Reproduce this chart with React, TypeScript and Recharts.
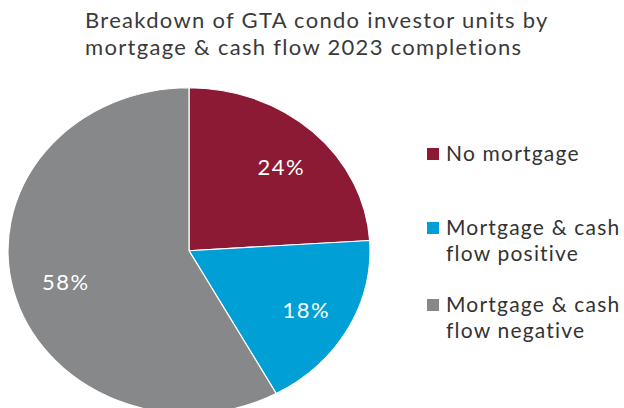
import { PieChart, Pie, Cell } from 'recharts';

// slice data
const categories = ['No mortgage', 'Mortgage & cash flow positive', 'Mortgage & cash flow negative'];
const legendLines = [['No mortgage'], ['Mortgage & cash', 'flow positive'], ['Mortgage & cash', 'flow negative']];
const shares = [24, 18, 58];
const colors = ['#8C1A35', '#009FD6', '#87888A'];

const data = categories.map((name, i) => ({ name, value: shares[i] }));

// the original pie is stretched horizontally, so the svg is squashed vertically
const SQUASH = 163 / 181;
const W = 624;
const H = 408;
const RAD = Math.PI / 180;
const font = 'Lato, "Open Sans", sans-serif';

const renderLabel = (props: any) => {
  const { cx, cy, outerRadius, midAngle, value } = props;
  const r = outerRadius * 0.72;
  const x = cx + r * Math.cos(-midAngle * RAD) + 3;
  const y = cy + r * Math.sin(-midAngle * RAD) + 2;
  return (
    <text
      transform={`translate(${x},${y}) scale(1,${1 / SQUASH})`}
      textAnchor="middle"
      dominantBaseline="central"
      fill="#ffffff"
      fontSize={22}
      letterSpacing={1.5}
      fontFamily={font}
    >
      {`${value}%`}
    </text>
  );
};

export default function App() {
  return (
    <div style={{ position: 'absolute', left: 0, top: 0, width: W, height: H, overflow: 'hidden', background: '#fff', fontFamily: font }}>
      <div style={{ position: 'absolute', left: 85, top: 6, fontSize: 22, letterSpacing: 1.3, lineHeight: '27px', color: '#3a3a3a', whiteSpace: 'nowrap' }}>
        Breakdown of GTA condo investor units by
        <br />
        mortgage &amp; cash flow 2023 completions
      </div>

      <div style={{ position: 'absolute', left: 0, top: 0, transform: `scaleY(${SQUASH})`, transformOrigin: 'top left' }}>
        <PieChart width={W} height={H / SQUASH} margin={{ top: 0, right: 0, bottom: 0, left: 0 }}>
          <Pie
            data={data}
            dataKey="value"
            cx={189}
            cy={250.7 / SQUASH}
            outerRadius={181}
            startAngle={90}
            endAngle={-270}
            stroke="#ffffff"
            strokeWidth={1.2}
            label={renderLabel}
            labelLine={false}
            isAnimationActive={false}
          >
            {data.map((entry, i) => (
              <Cell key={entry.name} fill={colors[i]} />
            ))}
          </Pie>
        </PieChart>
      </div>

      {/* legend */}
      {legendLines.map((lines, i) => (
        <div
          key={i}
          style={{
            position: 'absolute',
            left: 427,
            top: [140, 214, 291][i],
            fontSize: 21,
            letterSpacing: 1.2,
            lineHeight: '26px',
            color: '#333',
            display: 'flex',
            whiteSpace: 'nowrap',
          }}
        >
          <div style={{ width: 12, height: 12, background: colors[i], marginTop: 8, marginRight: 7 }} />
          <div>
            {lines.map((l) => (
              <div key={l}>{l}</div>
            ))}
          </div>
        </div>
      ))}
    </div>
  );
}
